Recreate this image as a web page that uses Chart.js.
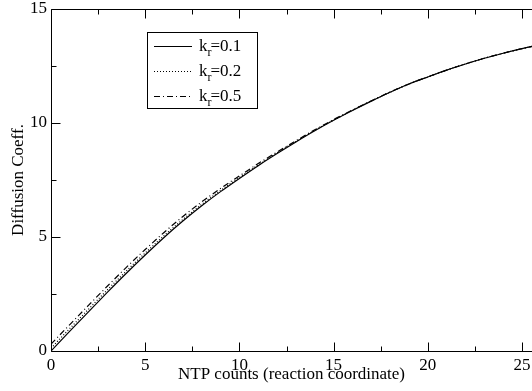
<!DOCTYPE html>
<html>
<head>
<meta charset="utf-8">
<script src="https://cdn.jsdelivr.net/npm/chart.js@4/dist/chart.umd.min.js"></script>
<style>
html,body{margin:0;padding:0;background:#fff;overflow:hidden;}
#c{display:block;}
</style>
</head>
<body>
<canvas id="c" width="532" height="391"></canvas>
<script>
// ---- data ----
const xValues = [0,1,2,3,4,5,6,7,8,9,10,11,12,13,14,15,16,17,18,19,20,21,22,23,24,25,26];
const kr01 = [0,0.87,1.73,2.58,3.41,4.21,4.98,5.70,6.37,6.99,7.57,8.13,8.66,9.17,9.66,10.12,10.55,10.96,11.35,11.71,12.02,12.32,12.59,12.84,13.06,13.26,13.44];
const kr02 = [0.12,0.99,1.84,2.69,3.51,4.30,5.06,5.77,6.43,7.04,7.61,8.16,8.69,9.19,9.68,10.13,10.56,10.97,11.35,11.71,12.02,12.32,12.59,12.84,13.06,13.26,13.44];
const kr05 = [0.30,1.16,2.01,2.85,3.67,4.45,5.20,5.90,6.54,7.13,7.68,8.22,8.73,9.22,9.70,10.15,10.57,10.97,11.36,11.71,12.02,12.32,12.59,12.84,13.06,13.26,13.44];
const seriesLabels = ["0.1","0.2","0.5"];
const xTickValues = [0,2.5,5,7.5,10,12.5,15,17.5,20,22.5,25];
const yTickValues = [0,2.5,5,7.5,10,12.5,15];
const xTitle = "NTP counts (reaction coordinate)";
const yTitle = "Diffusion Coeff.";

const FONT = "'Liberation Serif', 'Times New Roman', serif";
const dashes = [[], [1,2], [6,3,1,3]];

function pts(arr){ return xValues.map((x,i)=>({x:x,y:arr[i]})); }

const framePlugin = {
  id:'frame',
  afterDraw(chart){
    const ctx = chart.ctx, a = chart.chartArea;
    const xs = chart.scales.x, ys = chart.scales.y;
    ctx.save();
    ctx.strokeStyle = '#000';
    ctx.lineWidth = 1;
    ctx.setLineDash([]);
    const L = Math.round(a.left)+0.5, B = Math.round(a.bottom)+0.5, T = Math.round(a.top)+0.5, R = a.right;
    ctx.beginPath();
    ctx.moveTo(R, T); ctx.lineTo(L, T); ctx.lineTo(L, B); ctx.lineTo(R, B);
    ctx.stroke();
    xTickValues.forEach(v=>{
      const p = Math.round(xs.getPixelForValue(v))+0.5;
      const len = (v % 5 === 0) ? 9 : 5;
      ctx.beginPath();
      ctx.moveTo(p, B); ctx.lineTo(p, B-len);
      ctx.moveTo(p, T); ctx.lineTo(p, T+len);
      ctx.stroke();
    });
    yTickValues.forEach(v=>{
      const p = Math.round(ys.getPixelForValue(v))+0.5;
      const len = (v % 5 === 0) ? 9 : 5;
      ctx.beginPath();
      ctx.moveTo(L, p); ctx.lineTo(L+len, p);
      ctx.stroke();
    });
    // legend
    const bx = 147.5, by = 32.5, bw = 110, bh = 76;
    ctx.fillStyle = '#fff';
    ctx.fillRect(bx, by, bw, bh);
    ctx.strokeRect(bx, by, bw, bh);
    const rows = [46, 71, 96];
    chart.data.datasets.forEach((ds, i)=>{
      const y = rows[i] + 0.5;
      ctx.setLineDash(dashes[i]);
      ctx.lineWidth = 1.2;
      ctx.beginPath();
      ctx.moveTo(154, y); ctx.lineTo(192, y);
      ctx.stroke();
      ctx.setLineDash([]);
      ctx.fillStyle = '#000';
      ctx.textBaseline = 'alphabetic';
      ctx.textAlign = 'left';
      ctx.font = "17px " + FONT;
      const base = rows[i] + 5;
      ctx.fillText('k', 199, base);
      const kw = ctx.measureText('k').width;
      ctx.font = "12px " + FONT;
      ctx.fillText('r', 199 + kw, base + 5);
      const rw = ctx.measureText('r').width;
      ctx.font = "17px " + FONT;
      ctx.fillText('=' + seriesLabels[i], 199 + kw + rw - 1, base);
    });
    ctx.restore();
  }
};

new Chart(document.getElementById('c'), {
  type: 'line',
  data: {
    datasets: [
      {label:'kr=0.1', data: pts(kr01), borderColor:'#000', borderWidth:1.2, pointRadius:0, cubicInterpolationMode:'monotone', borderDash: dashes[0], fill:false},
      {label:'kr=0.2', data: pts(kr02), borderColor:'#000', borderWidth:1.2, pointRadius:0, cubicInterpolationMode:'monotone', borderDash: dashes[1], fill:false},
      {label:'kr=0.5', data: pts(kr05), borderColor:'#000', borderWidth:1.2, pointRadius:0, cubicInterpolationMode:'monotone', borderDash: dashes[2], fill:false}
    ]
  },
  options: {
    responsive:false,
    animation:false,
    devicePixelRatio:1,
    layout:{padding:{top:9,right:0,left:0,bottom:0}},
    plugins:{legend:{display:false}, tooltip:{enabled:false}},
    scales:{
      x:{
        type:'linear', min:0, max:25.53,
        grid:{display:false, drawTicks:false},
        border:{display:false},
        afterBuildTicks(s){ s.ticks = xTickValues.map(v=>({value:v})); },
        afterFit(s){ s.height = 40; s.paddingLeft = 0; s.paddingRight = 0; },
        ticks:{autoSkip:false, maxRotation:0, padding:4, color:'#000', font:{family:FONT, size:17},
          callback:(v)=> (v % 5 === 0 ? String(v) : '')},
        title:{display:true, text:xTitle, color:'#000', font:{family:FONT, size:17}, padding:{top:0,bottom:6}}
      },
      y:{
        type:'linear', min:0, max:15,
        grid:{display:false, drawTicks:false},
        border:{display:false},
        afterBuildTicks(s){ s.ticks = yTickValues.map(v=>({value:v})); },
        afterFit(s){ s.width = 51; s.paddingTop = 0; s.paddingBottom = 0; },
        ticks:{autoSkip:false, padding:4, color:'#000', font:{family:FONT, size:17},
          callback:(v)=> (v % 5 === 0 ? String(v) : '')},
        title:{display:true, text:yTitle, color:'#000', font:{family:FONT, size:17}, padding:{top:8,bottom:0}}
      }
    }
  },
  plugins:[framePlugin]
});
</script>
</body>
</html>
